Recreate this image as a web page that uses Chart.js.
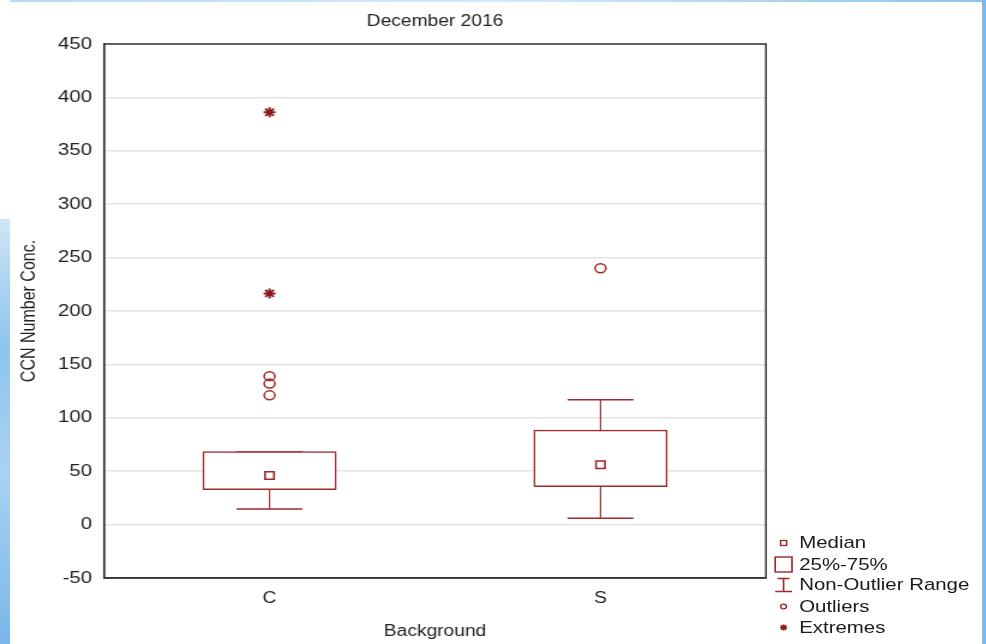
<!DOCTYPE html>
<html>
<head>
<meta charset="utf-8">
<script src="https://cdn.jsdelivr.net/npm/chart.js@4/dist/chart.umd.min.js"></script>
<style>
  html, body { margin: 0; padding: 0; background: #fff; overflow: hidden; }
  body { width: 986px; height: 644px; position: relative; }
  /* slide background peeking round the picture */
  .edge { position: absolute; }
  #edge-top { left: 10px; top: 0; width: 976px; height: 2px; background: linear-gradient(90deg, #b9daf3, #d6eaf8 50%, #8ec3ec); }
  #edge-right { left: 982px; top: 0; width: 4px; height: 644px; background: #7db9e9; }
  #edge-left { left: 0; top: 219px; width: 10px; height: 425px; background: linear-gradient(180deg, #cfe5f7, #8fc4ee 30%, #a9d2f2 60%, #7ab6e8); }
  #wrap { position: absolute; left: 0; top: 0; width: 822px; height: 644px;
          transform: scaleX(1.2); transform-origin: 0 0; }
  #legend { position: absolute; left: 0; top: 0; width: 822px; height: 644px; pointer-events: none;
            font-family: "Liberation Sans", Arial, sans-serif; font-size: 17px; color: #1a1a1a; }
  #legend .row { position: absolute; left: 666px; height: 20px; line-height: 20px; white-space: nowrap; }
</style>
</head>
<body>
<div class="edge" id="edge-top"></div>
<div class="edge" id="edge-right"></div>
<div class="edge" id="edge-left"></div>
<div id="wrap">
  <canvas id="box"></canvas>
  <div id="legend"></div>
</div>
<script>
// --- Data ---
const categories = ["C", "S"];
const q1 = [33, 36];
const q3 = [68, 88];
const medians = [46, 56];
const whiskerLow = [14.5, 6];
const whiskerHigh = [68, 117];
const outliersC = [139, 132, 121];
const outliersS = [240];
const extremesC = [386, 216.5];
const extremesS = [];

const yMin = -50;
const yMax = 450;
const yStep = 50;

const legendItems = ["Median", "25%-75%", "Non-Outlier Range", "Outliers", "Extremes"];

// --- Style ---
const RED = "#a0292b";
const DARK_RED = "#8a1c1e";
const FONT = "'Liberation Sans', Arial, sans-serif";

function toPoints(cat, values) {
  return values.map((v) => ({ x: cat, y: v }));
}

const outlierPoints = toPoints("C", outliersC).concat(toPoints("S", outliersS));
const extremePoints = toPoints("C", extremesC).concat(toPoints("S", extremesS));

// frame round the plot area (top and right sides too)
const framePlugin = {
  id: "frame",
  afterDraw(chart) {
    const { ctx, chartArea: a } = chart;
    ctx.save();
    ctx.strokeStyle = "#333";
    ctx.lineWidth = 1.5;
    ctx.strokeRect(a.left, a.top, a.right - a.left, a.bottom - a.top);
    ctx.restore();
  },
};

const pointOnly = { type: "line", showLine: false, borderWidth: 0, xAxisID: "x", yAxisID: "y" };

new Chart(document.getElementById("box"), {
  data: {
    labels: categories,
    datasets: [
      {
        ...pointOnly,
        label: "Median",
        data: medians,
        pointStyle: "rect",
        pointRadius: 5.3,
        pointHoverRadius: 5.3,
        pointBorderColor: RED,
        pointBackgroundColor: "#fff",
        pointBorderWidth: 1.6,
      },
      {
        type: "bar",
        label: "25%-75%",
        xAxisID: "x",
        yAxisID: "y",
        data: q1.map((v, i) => [v, q3[i]]),
        backgroundColor: "#fff",
        borderColor: RED,
        borderWidth: 1.5,
        borderSkipped: false,
        inflateAmount: 0.75,
        grouped: false,
        barPercentage: 0.4,
        categoryPercentage: 1,
      },
      {
        type: "bar",
        label: "Non-Outlier Range",
        xAxisID: "x",
        yAxisID: "y",
        data: whiskerLow.map((v, i) => [v, whiskerHigh[i]]),
        backgroundColor: RED,
        borderWidth: 0,
        inflateAmount: 0,
        grouped: false,
        barThickness: 1.1,
      },
      {
        ...pointOnly,
        label: "cap low",
        data: whiskerLow,
        pointStyle: "line",
        pointRadius: 27.5,
        pointHoverRadius: 27.5,
        pointBorderColor: RED,
        pointBorderWidth: 1.5,
      },
      {
        ...pointOnly,
        label: "cap high",
        data: whiskerHigh,
        pointStyle: "line",
        pointRadius: 27.5,
        pointHoverRadius: 27.5,
        pointBorderColor: RED,
        pointBorderWidth: 1.5,
      },
      {
        ...pointOnly,
        label: "Outliers",
        data: outlierPoints,
        pointStyle: "circle",
        pointRadius: 4.5,
        pointHoverRadius: 4.5,
        pointBorderColor: RED,
        pointBackgroundColor: "rgba(0,0,0,0)",
        pointBorderWidth: 1.5,
      },
      {
        ...pointOnly,
        label: "Extremes",
        data: extremePoints,
        pointStyle: "star",
        pointRadius: 5,
        pointHoverRadius: 5,
        pointBorderColor: DARK_RED,
        pointBorderWidth: 2,
      },
    ],
  },
  options: {
    responsive: true,
    maintainAspectRatio: false,
    animation: false,
    events: [],
    layout: { padding: { left: 0, right: 183.7, top: 0, bottom: 0 } },
    plugins: {
      legend: { display: false },
      tooltip: { enabled: false },
    },
    scales: {
      x: {
        type: "category",
        offset: true,
        grid: { display: false, drawTicks: false, tickLength: 0 },
        border: { display: true, color: "#333", width: 1.5 },
        ticks: { color: "#222", font: { family: FONT, size: 16 }, padding: 11 },
        title: {
          display: true,
          text: "Background",
          color: "#222",
          font: { family: FONT, size: 16 },
          padding: { top: 0, bottom: 2.4 },
        },
        afterFit(scale) {
          scale.height = 66;
        },
      },
      y: {
        min: yMin,
        max: yMax,
        grid: { color: "#e4e4e4", lineWidth: 1.5, drawTicks: false, tickLength: 0 },
        border: { display: true, color: "#333", width: 1.5 },
        ticks: { stepSize: yStep, color: "#222", font: { family: FONT, size: 17 }, padding: 10 },
        title: {
          display: true,
          text: "CCN Number Conc.",
          color: "#222",
          font: { family: FONT, size: 16 },
          padding: { top: 15.4, bottom: 0 },
        },
        afterFit(scale) {
          scale.width = 86.7;
        },
      },
      // top axis only carries the chart title, so it sits centred over the plot
      xTop: {
        type: "category",
        position: "top",
        offset: true,
        grid: { display: false, drawTicks: false, tickLength: 0 },
        border: { display: false },
        ticks: { display: false },
        title: {
          display: true,
          text: "December 2016",
          color: "#222",
          font: { family: FONT, size: 16 },
          padding: { top: 12, bottom: 0 },
        },
        afterFit(scale) {
          scale.height = 44;
        },
      },
    },
  },
  plugins: [framePlugin],
});

// --- Legend (HTML, bottom right) ---
const legendEl = document.getElementById("legend");
const rowCenters = [543, 564.5, 585, 606.5, 627.5];
const iconX = 653;
let svg = '<svg width="822" height="644" style="position:absolute;left:0;top:0">';
legendItems.forEach((name, i) => {
  const cy = rowCenters[i];
  const row = document.createElement("div");
  row.className = "row";
  row.style.top = (cy - 10) + "px";
  row.textContent = name;
  legendEl.appendChild(row);
  if (i === 0) {
    svg += `<rect x="${iconX - 2.5}" y="${cy - 2.5}" width="5" height="5" fill="none" stroke="${RED}" stroke-width="1.3"/>`;
  } else if (i === 1) {
    svg += `<rect x="${iconX - 7}" y="${cy - 7.5}" width="14" height="15" fill="none" stroke="${RED}" stroke-width="1.4"/>`;
  } else if (i === 2) {
    svg += `<path d="M${iconX - 5} ${cy - 6.5} H${iconX + 5} M${iconX} ${cy - 6.5} V${cy + 6.5} M${iconX - 7} ${cy + 6.5} H${iconX + 7}" stroke="${RED}" stroke-width="1.4" fill="none"/>`;
  } else if (i === 3) {
    svg += `<circle cx="${iconX}" cy="${cy}" r="2.4" fill="none" stroke="${RED}" stroke-width="1.2"/>`;
  } else {
    svg += `<path d="M${iconX - 3} ${cy} H${iconX + 3} M${iconX} ${cy - 3} V${cy + 3} M${iconX - 2.2} ${cy - 2.2} L${iconX + 2.2} ${cy + 2.2} M${iconX - 2.2} ${cy + 2.2} L${iconX + 2.2} ${cy - 2.2}" stroke="${DARK_RED}" stroke-width="1.4" fill="none"/>`;
  }
});
svg += "</svg>";
legendEl.insertAdjacentHTML("afterbegin", svg);
</script>
</body>
</html>
